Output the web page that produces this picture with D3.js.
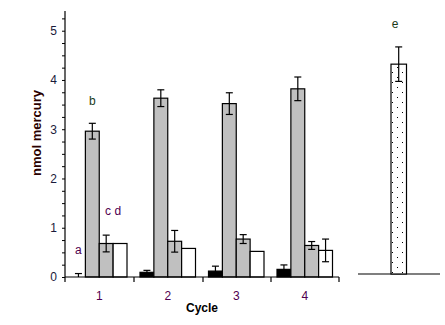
<!DOCTYPE html>
<html>
<head>
<meta charset="utf-8">
<script src="https://cdn.jsdelivr.net/npm/d3@7"></script>
<style>
body { margin: 0; background: #fff; }
text { font-family: Arial, "Liberation Sans", sans-serif; }
</style>
</head>
<body>
<div id="chart"></div>
<script>
"use strict";

// values
var cycles = ["1", "2", "3", "4"];
var seriesNames = ["black", "grey", "grey2", "white"];
var blackVals = [0, 0.095, 0.12, 0.155];
var blackErr = [0.07, 0.04, 0.1, 0.09];
var greyVals = [2.96, 3.63, 3.52, 3.82];
var greyErr = [0.16, 0.17, 0.22, 0.24];
var grey2Vals = [0.68, 0.725, 0.77, 0.64];
var grey2Err = [0.17, 0.22, 0.09, 0.08];
var whiteVals = [0.68, 0.58, 0.52, 0.54];
var whiteErr = [0, 0, 0, 0.23];
var controlVal = 4.26;
var controlErr = 0.35;
var yTicks = [0, 1, 2, 3, 4, 5];

var width = 445, height = 325;
var fills = { black: "#000", grey: "#c0c0c0", grey2: "#c0c0c0", white: "#fff" };
var vals = { black: blackVals, grey: greyVals, grey2: grey2Vals, white: whiteVals };
var errs = { black: blackErr, grey: greyErr, grey2: grey2Err, white: whiteErr };

var svg = d3.select("#chart").append("svg")
	.attr("width", width)
	.attr("height", height);

// dotted fill for the control bar
var pat = svg.append("defs").append("pattern")
	.attr("id", "dots")
	.attr("patternUnits", "userSpaceOnUse")
	.attr("width", 10).attr("height", 10);
pat.append("rect").attr("width", 10).attr("height", 10).attr("fill", "#fff");
pat.append("rect").attr("x", 2).attr("y", 2).attr("width", 1).attr("height", 1).attr("fill", "#000");
pat.append("rect").attr("x", 7).attr("y", 7).attr("width", 1).attr("height", 1).attr("fill", "#000");

var y = d3.scaleLinear().domain([0, 5.4]).range([277, 11]);
var x = d3.scaleBand().domain(cycles).range([65, 339]);
var pad = 6.5;
var xs = d3.scaleBand().domain(seriesNames).range([pad, x.bandwidth() - pad]);

// y axis with minor ticks every 0.25
var yAxis = d3.axisLeft(y)
	.tickValues(d3.range(0, 5.3, 0.25))
	.tickSize(3)
	.tickFormat(function(d) { return yTicks.indexOf(d) >= 0 ? d : ""; });
var gy = svg.append("g").attr("transform", "translate(65,0)").call(yAxis);
gy.select(".domain").attr("d", "M0," + y(5.4) + "V" + y(0)).attr("stroke", "#000").attr("stroke-width", 1.2);
gy.selectAll(".tick line").attr("stroke", "#000");
gy.selectAll(".tick text").attr("font-size", 12).attr("fill", "#1a1a3a").attr("x", -8);

// bars
var groups = svg.append("g").selectAll("g")
	.data(cycles)
	.join("g")
	.attr("transform", function(d) { return "translate(" + x(d) + ",0)"; });

seriesNames.forEach(function(s) {
	groups.append("rect")
		.attr("x", xs(s))
		.attr("width", xs.bandwidth())
		.attr("y", function(d, i) { return y(vals[s][i]); })
		.attr("height", function(d, i) { return y(0) - y(vals[s][i]); })
		.attr("fill", fills[s])
		.attr("stroke", "#000")
		.attr("stroke-width", 1.2);

	groups.each(function(d, i) {
		var e = errs[s][i];
		if (!e) return;
		var g = d3.select(this);
		var cx = xs(s) + xs.bandwidth() / 2;
		var v = vals[s][i];
		var top = y(v + e), bot = Math.min(y(v - e), y(0));
		g.append("line").attr("x1", cx).attr("x2", cx).attr("y1", top).attr("y2", bot);
		g.append("line").attr("x1", cx - 3.5).attr("x2", cx + 3.5).attr("y1", top).attr("y2", top);
		if (v - e >= 0) g.append("line").attr("x1", cx - 3.5).attr("x2", cx + 3.5).attr("y1", bot).attr("y2", bot);
	});
});
groups.selectAll("line").attr("stroke", "#000").attr("stroke-width", 1.2);

// x axis
var xAxis = d3.axisBottom(x).tickSize(0).tickPadding(14);
var gx = svg.append("g").attr("transform", "translate(0," + y(0) + ")").call(xAxis);
gx.select(".domain").attr("stroke", "#000").attr("stroke-width", 1.2).attr("d", "M65,0H339");
gx.selectAll(".tick text").attr("font-size", 12).attr("fill", "#500050");
svg.append("g").selectAll("line")
	.data([65, 134, 203, 271, 339])
	.join("line")
	.attr("x1", function(d) { return d; }).attr("x2", function(d) { return d; })
	.attr("y1", y(0)).attr("y2", y(0) + 5)
	.attr("stroke", "#000").attr("stroke-width", 1.2);

// axis titles
svg.append("text")
	.attr("transform", "translate(41,133) rotate(-90)")
	.attr("text-anchor", "middle")
	.attr("font-size", 13).attr("font-weight", "bold")
	.attr("fill", "#2a0000")
	.text("nmol mercury");
svg.append("text")
	.attr("x", 202).attr("y", 312)
	.attr("text-anchor", "middle")
	.attr("font-size", 12).attr("font-weight", "bold")
	.attr("fill", "#000")
	.text("Cycle");

// letters over cycle 1
var c1 = x("1");
svg.append("text").attr("x", c1 + xs("black") + xs.bandwidth() / 2).attr("y", 254)
	.attr("text-anchor", "middle").attr("font-size", 12).attr("fill", "#500050").text("a");
svg.append("text").attr("x", c1 + xs("grey") + xs.bandwidth() / 2).attr("y", 105)
	.attr("text-anchor", "middle").attr("font-size", 12).attr("fill", "#1a3a1a").text("b");
svg.append("text").attr("x", c1 + xs("white")).attr("y", 215)
	.attr("text-anchor", "middle").attr("font-size", 12).attr("fill", "#500050").text("c d");

// right panel: control bar
var yR = y.copy().range([274, 8]);
svg.append("line").attr("x1", 358).attr("x2", 440).attr("y1", yR(0)).attr("y2", yR(0))
	.attr("stroke", "#000").attr("stroke-width", 1.2);
svg.append("rect")
	.attr("x", 391).attr("width", 15.5)
	.attr("y", yR(controlVal)).attr("height", yR(0) - yR(controlVal))
	.attr("fill", "url(#dots)").attr("stroke", "#000").attr("stroke-width", 1.2);
var rc = 398.7;
svg.append("g").attr("stroke", "#000").attr("stroke-width", 1.2)
	.selectAll("line")
	.data([
		[rc, rc, yR(controlVal + controlErr), yR(controlVal - controlErr)],
		[rc - 3.5, rc + 3.5, yR(controlVal + controlErr), yR(controlVal + controlErr)],
		[rc - 3.5, rc + 3.5, yR(controlVal - controlErr), yR(controlVal - controlErr)]
	])
	.join("line")
	.attr("x1", function(d) { return d[0]; }).attr("x2", function(d) { return d[1]; })
	.attr("y1", function(d) { return d[2]; }).attr("y2", function(d) { return d[3]; });
svg.append("text").attr("x", 395).attr("y", 28)
	.attr("text-anchor", "middle").attr("font-size", 12).attr("fill", "#1a3a1a").text("e");
</script>
</body>
</html>
